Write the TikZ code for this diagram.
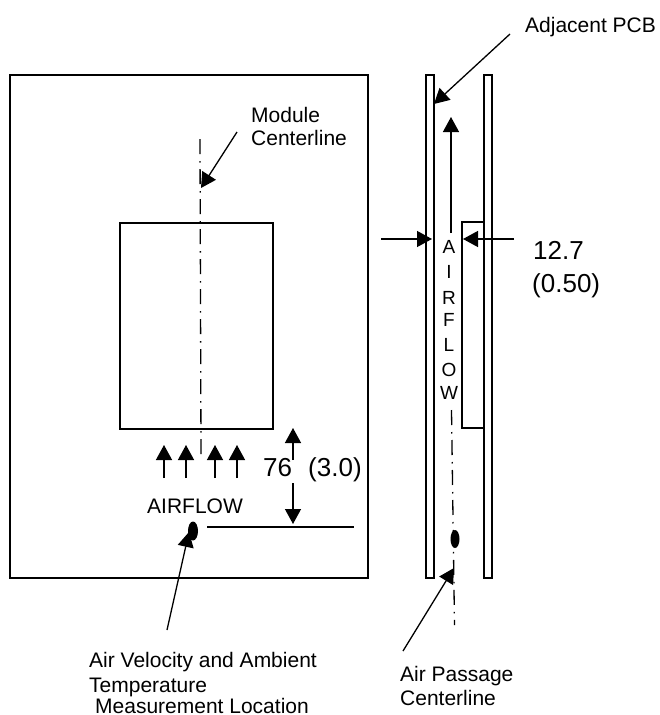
\documentclass[tikz,border=0pt]{standalone}
\usepackage{fontspec}
\setmainfont{Liberation Sans}
\usetikzlibrary{arrows.meta,shapes.geometric}
\tikzset{
  heavy/.style={line width=1.4pt},
  flowarrow/.style={line width=1.3pt,-{Triangle[length=15pt,width=16pt]}},
  centerline/.style={line width=1.3pt,dash pattern=on 15pt off 7pt on 1.5pt off 6.5pt},
  tag/.style={anchor=base west,inner sep=0pt,font=\fontsize{21}{24}\selectfont},
  dimtext/.style={anchor=base west,inner sep=0pt,font=\fontsize{26}{30}\selectfont},
  letter/.style={inner sep=0pt,font=\fontsize{19}{22}\selectfont},
}
\begin{document}
\begin{tikzpicture}[x=1pt,y=-1pt]
\useasboundingbox (0,0) rectangle (660,715);
% module side
\draw[heavy] (10,75) rectangle (368,578);
\draw[heavy] (120,223) rectangle (273,429);
\coordinate (modtop) at (200,139);
\coordinate (modend) at (201,454);
\draw[centerline] (modtop) -- (modend);
\node[tag] (modlabel) at (251,122) {Module};
\node[tag] (modlabelb) at (251,145) {Centerline};
\coordinate (modtail) at (237,132);
\coordinate (modtip) at (201,188);
\draw[flowarrow] (modtail) -- (modtip);
% airflow arrows
\foreach \px/\nm in {164/a,186/b,215/c,237/d} {
  \coordinate (tail\nm) at (\px,478);
  \coordinate (tip\nm) at (\px,445);
  \draw[flowarrow] (tail\nm) -- (tip\nm);
}
\node[tag] (airflow) at (147,513) {AIRFLOW};
\node[dimtext] (dimA) at (263,476) {76};
\node[dimtext] (dimB) at (308,476) {(3.0)};
\coordinate (upfrom) at (293,460);
\coordinate (upto) at (293,428);
\coordinate (downfrom) at (293,483);
\coordinate (downto) at (293,524);
\draw[flowarrow] (upfrom) -- (upto);
\draw[flowarrow] (downfrom) -- (downto);
\coordinate (refa) at (207,527);
\coordinate (refb) at (354,527);
\draw[heavy] (refa) -- (refb);
\node[ellipse,fill=black,inner sep=0pt,minimum width=10pt,minimum height=19pt] (probe) at (193,531) {};
\coordinate (probetail) at (167,630);
\coordinate (probetip) at (189,532);
\draw[flowarrow] (probetail) -- (probetip);
\node[tag] (locA) at (89,667) {Air Velocity and Ambient};
\node[tag] (locB) at (89,692) {Temperature};
\node[tag] (locC) at (95,713) {Measurement Location};
% passage side
\draw[heavy] (426,75) rectangle (434,578);
\draw[heavy] (484,75) rectangle (492,578);
\draw[heavy] (462,222) rectangle (484,428);
\coordinate (paslow) at (451.5,410);
\coordinate (pasend) at (454.5,625);
\draw[centerline] (paslow) -- (pasend);
\node[ellipse,fill=black,inner sep=0pt,minimum width=9pt,minimum height=18pt] (hole) at (455,539) {};
\coordinate (flowtail) at (451,233);
\coordinate (flowtip) at (451,117);
\draw[flowarrow] (flowtail) -- (flowtip);
\foreach \ch/\py in {A/247,I/272,R/298,F/320,L/345,O/370,W/393} {
  \node[letter] (let\ch) at (449,\py) {\ch};
}
\node[tag] (pcblabel) at (525,32) {Adjacent PCB};
\coordinate (pcbtail) at (510,34);
\coordinate (pcbtip) at (434,104);
\draw[flowarrow] (pcbtail) -- (pcbtip);
\coordinate (gapla) at (381,239);
\coordinate (gaplb) at (432,239);
\coordinate (gapra) at (514,239);
\coordinate (gaprb) at (463,239);
\draw[flowarrow] (gapla) -- (gaplb);
\draw[flowarrow] (gapra) -- (gaprb);
\node[dimtext] (gapA) at (533,259) {12.7};
\node[dimtext] (gapB) at (532,292) {(0.50)};
\node[tag] (pasA) at (400,681) {Air Passage};
\node[tag] (pasB) at (400,705) {Centerline};
\coordinate (pastail) at (403,651);
\coordinate (pastip) at (454,568);
\draw[flowarrow] (pastail) -- (pastip);
\end{tikzpicture}
\end{document}
